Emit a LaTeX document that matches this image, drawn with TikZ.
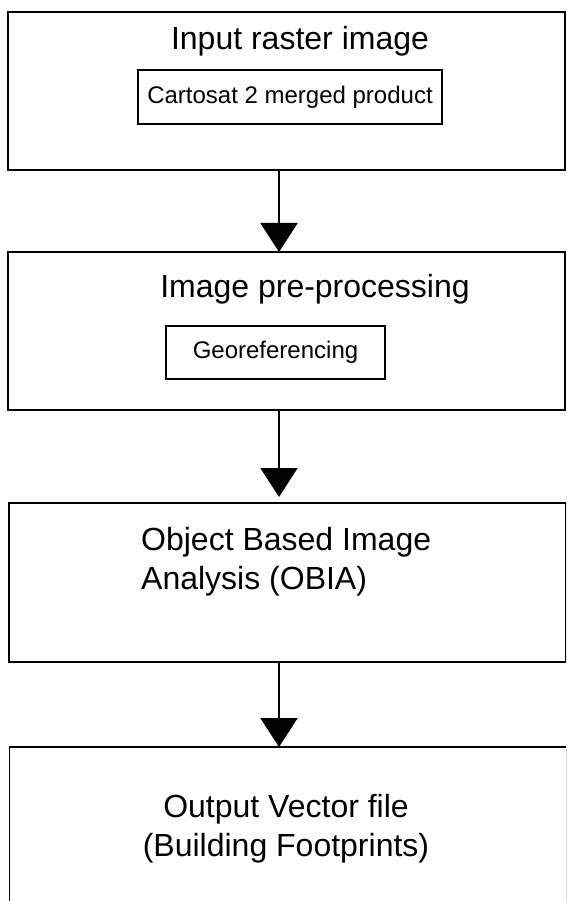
\documentclass[tikz,border=0pt]{standalone}
\usepackage{fontspec}
\setmainfont{Liberation Sans}
\usetikzlibrary{arrows.meta, positioning}

\begin{document}
\begin{tikzpicture}[x=1pt, y=-1pt,
  stage/.style={draw, line width=1.8pt, minimum width=557pt, inner sep=0pt, outer sep=0pt},
  heading/.style={font=\fontsize{32}{39}\selectfont, inner sep=0pt},
  detail/.style={draw, line width=1.6pt, font=\fontsize{24}{28}\selectfont, inner sep=0pt, outer sep=0pt},
  flow/.style={line width=2pt, -{Triangle[width=37pt, length=29pt]}}]
  \useasboundingbox (0,0) rectangle (566,901);
  \clip (0,0) rectangle (566,901);
  % Input
  \node[stage, minimum height=158pt] (input) at (286.5,91) {};
  \node[heading, anchor=base] (inputtitle) at (300,50) {Input raster image};
  \node[detail, minimum width=304pt, minimum height=54pt] (cartosat) at (290,97) {Cartosat 2 merged product};
  % Pre-processing
  \node[stage, minimum height=158pt] (prep) at (286.5,331) {};
  \node[heading, anchor=base] (preptitle) at (315,297) {Image pre-processing};
  \node[detail, minimum width=219pt, minimum height=53pt] (georef) at (275.5,352.5) {Georeferencing};
  % OBIA
  \node[stage, minimum height=159pt] (obia) at (287.5,582.5) {};
  \node[heading, align=left, anchor=north west] (obiatitle) at (141,527) {Object Based Image\\Analysis (OBIA)};
  % Output
  \node[stage, minimum height=180pt] (output) at (288,837) {};
  \node[heading, align=center, anchor=north] (outputtitle) at (286,794) {Output Vector file\\(Building Footprints)};
  % Arrows
  \coordinate (spine) at (279,0);
  \draw[flow] (input.south -| spine) -- (prep.north -| spine);
  \draw[flow, shorten >=6pt] (prep.south -| spine) -- (obia.north -| spine);
  \draw[flow] (obia.south -| spine) -- (output.north -| spine);
\end{tikzpicture}
\end{document}
